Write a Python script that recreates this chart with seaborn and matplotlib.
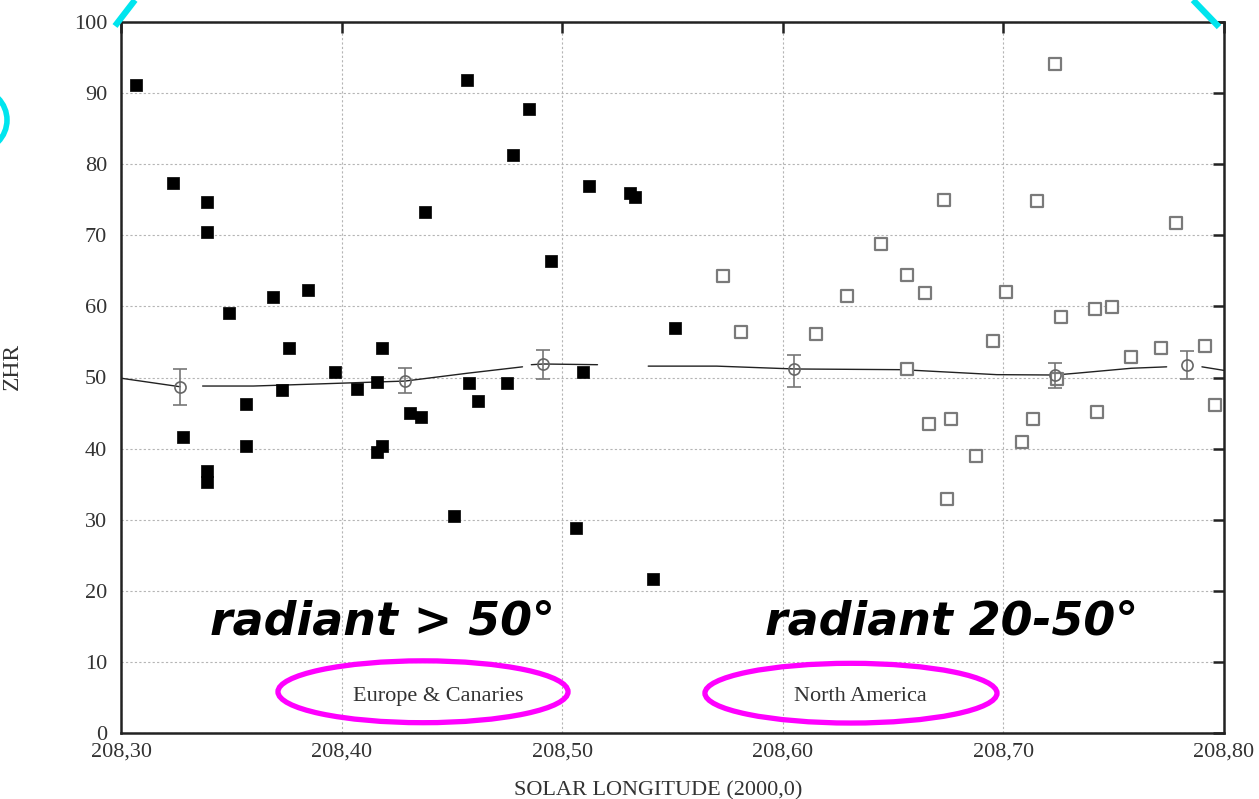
import numpy as np
import pandas as pd
import matplotlib
matplotlib.use("Agg")
import matplotlib.pyplot as plt
from matplotlib.patches import Ellipse
from matplotlib.lines import Line2D
import seaborn as sns

# ---------------- data ----------------
eu_x = [208.3068, 208.3236, 208.3281, 208.3390, 208.3390, 208.3390, 208.3390,
        208.3490, 208.3567, 208.3567, 208.3689, 208.3730, 208.3762, 208.3848,
        208.3970, 208.4070, 208.4160, 208.4183, 208.4160, 208.4183, 208.4310,
        208.4360, 208.4378, 208.4510, 208.4568, 208.4578, 208.4618, 208.4750,
        208.4777, 208.4850, 208.4949, 208.5063, 208.5094, 208.5121, 208.5307,
        208.5330, 208.5412, 208.5511]
eu_y = [91.1, 77.4, 41.6, 74.7, 70.5, 36.8, 35.3,
        59.1, 46.3, 40.4, 61.3, 48.2, 54.1, 62.3,
        50.8, 48.4, 49.4, 54.1, 39.5, 40.4, 45.0,
        44.4, 73.3, 30.5, 91.8, 49.2, 46.7, 49.2,
        81.3, 87.8, 66.4, 28.8, 50.8, 76.9, 75.9,
        75.4, 21.7, 57.0]

na_x = [208.5729, 208.5810, 208.6150, 208.6291, 208.6445, 208.6563, 208.6563,
        208.6645, 208.6663, 208.6731, 208.6744, 208.6762, 208.6876, 208.6953,
        208.7012, 208.7084, 208.7134, 208.7152, 208.7234, 208.7243, 208.7261,
        208.7415, 208.7424, 208.7492, 208.7578, 208.7714, 208.7782, 208.7914,
        208.7959]
na_y = [64.3, 56.4, 56.1, 61.5, 68.8, 64.4, 51.2,
        61.9, 43.5, 75.0, 32.9, 44.2, 39.0, 55.1,
        62.0, 40.9, 44.2, 74.8, 94.1, 49.8, 58.5,
        59.6, 45.1, 59.9, 52.9, 54.1, 71.7, 54.4,
        46.1]

mean_x = [208.3268, 208.4288, 208.4913, 208.6053, 208.7234, 208.7832]
mean_y = [48.7, 49.5, 51.9, 51.2, 50.35, 51.8]
err_lo = [2.6, 1.7, 2.1, 2.5, 1.85, 2.0]
err_hi = [2.5, 1.8, 2.0, 2.0, 1.65, 1.9]

line_seg = [1, 1,
            2, 2, 2, 2, 2, 2,
            3, 3, 3,
            4, 4, 4, 4, 4, 4, 4, 4, 4,
            5, 5]
line_x = [208.300, 208.3268,
          208.337, 208.360, 208.390, 208.4288, 208.457, 208.482,
          208.486, 208.4913, 208.516,
          208.539, 208.570, 208.6053, 208.654, 208.697, 208.7234, 208.733, 208.758, 208.774,
          208.790, 208.800]
line_y = [49.9, 48.7,
          48.8, 48.8, 49.1, 49.5, 50.6, 51.5,
          51.8, 51.9, 51.8,
          51.6, 51.6, 51.2, 51.1, 50.4, 50.35, 50.6, 51.3, 51.5,
          51.5, 51.0]

xticks = [208.30, 208.40, 208.50, 208.60, 208.70, 208.80]
xtick_labels = ["208,30", "208,40", "208,50", "208,60", "208,70", "208,80"]
yticks = [0, 10, 20, 30, 40, 50, 60, 70, 80, 90, 100]

# ---------------- figure ----------------
sns.set_style("white")
plt.rcParams['font.family'] = ['Liberation Serif', 'DejaVu Serif']

fig = plt.figure(figsize=(12.59, 7.99), dpi=100)
ax = fig.add_axes([121/1259, 1-733/799, (1224-121)/1259, (733-22)/799])

df_eu = pd.DataFrame({"x": eu_x, "y": eu_y})
df_na = pd.DataFrame({"x": na_x, "y": na_y})
df_line = pd.DataFrame({"x": line_x, "y": line_y, "seg": line_seg})

sns.lineplot(data=df_line, x="x", y="y", units="seg", estimator=None,
             color="#222222", lw=1.0, ax=ax, zorder=3, sort=False)
sns.scatterplot(data=df_eu, x="x", y="y", marker="s", s=64, color="black",
                edgecolor="black", linewidth=0.5, ax=ax, zorder=4)
sns.scatterplot(data=df_na, x="x", y="y", marker="s", s=80, facecolor="white",
                edgecolor="#7a7a7a", linewidth=1.6, ax=ax, zorder=4)
ax.errorbar(mean_x, mean_y, yerr=[err_lo, err_hi], fmt="o", ms=8,
            mfc="none", mec="#666666", mew=1.2, ecolor="#777777",
            elinewidth=1.2, capsize=5, capthick=1.2, zorder=5)

ax.set_xlim(208.30, 208.80)
ax.set_ylim(0, 100)
ax.set_xticks(xticks)
ax.set_xticklabels(xtick_labels)
ax.set_yticks(yticks)
ax.tick_params(direction="in", length=8, width=1.8, color="#222222",
               labelsize=16, labelcolor="#333333", top=True, right=True)
ax.tick_params(axis="y", pad=10)
ax.tick_params(axis="x", pad=7)
ax.grid(True, color="#b5b5b5", linestyle=(0, (2, 2)), linewidth=0.8)
for s in ax.spines.values():
    s.set_visible(True)
    s.set_color("#222222")
    s.set_linewidth(1.8)

ax.set_xlabel("SOLAR LONGITUDE (2000,0)", fontsize=16, color="#333333", labelpad=10)
ax.xaxis.set_label_coords(0.487, -0.068)
ax.set_ylabel("ZHR", fontsize=17, color="#333333")
ax.yaxis.set_label_coords(-0.089, 0.515)

# annotation texts
ax.text(208.4185, 15.6, "radiant > 50°", fontsize=33, fontweight="bold",
        fontstyle="italic", family="DejaVu Sans", color="black",
        ha="center", va="center", zorder=6)
ax.text(208.6767, 15.6, "radiant 20-50°", fontsize=33, fontweight="bold",
        fontstyle="italic", family="DejaVu Sans", color="black",
        ha="center", va="center", zorder=6)
ax.text(208.4437, 5.2, "Europe & Canaries", fontsize=16, color="#333333",
        ha="center", va="center", zorder=6)
ax.text(208.635, 5.2, "North America", fontsize=16, color="#333333",
        ha="center", va="center", zorder=6)

ax.add_patch(Ellipse((208.4369, 5.8), 0.1315, 8.7, fill=False,
                     edgecolor="#ff00ff", lw=3.8, zorder=7))
ax.add_patch(Ellipse((208.6309, 5.6), 0.1324, 8.4, fill=False,
                     edgecolor="#ff00ff", lw=3.8, zorder=7))

# cyan slide decorations
fig.add_artist(Line2D([115/1259, 135/1259], [1-26/799, 1.0], color="#00e5ee",
                      lw=4.5, solid_capstyle="butt"))
fig.add_artist(Line2D([1193/1259, 1219/1259], [1.0, 1-27/799], color="#00e5ee",
                      lw=4.5, solid_capstyle="butt"))
fig.add_artist(Ellipse((-24/1259, 1-120/799), 62/1259, 62/799, fill=False,
                       edgecolor="#00e5ee", lw=4, transform=fig.transFigure))

fig.savefig("out.png", dpi=100)
